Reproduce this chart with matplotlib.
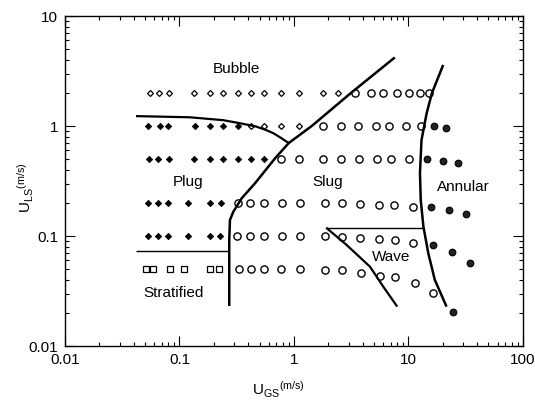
import matplotlib
matplotlib.use("Agg")
import matplotlib.pyplot as plt
from matplotlib.ticker import FixedLocator, LogLocator, NullFormatter, FuncFormatter

plt.rcParams['font.family'] = ['Liberation Sans', 'DejaVu Sans']
plt.rcParams['mathtext.fontset'] = 'custom'
plt.rcParams['mathtext.rm'] = 'Liberation Sans'
plt.rcParams['mathtext.it'] = 'Liberation Sans'

# ---- observed flow regimes: gas (x) and liquid (y) superficial velocities, m/s ----
bubble_x = [0.055, 0.066, 0.081, 0.134, 0.185, 0.239, 0.327, 0.421, 0.55, 0.77, 1.11, 1.79, 2.44,
            0.421, 0.55, 0.77, 1.11]
bubble_y = [2.0] * 13 + [1.0] * 4

plug_x = [0.053, 0.068, 0.080, 0.137, 0.185, 0.239, 0.327,
          0.054, 0.065, 0.081, 0.134, 0.185, 0.239, 0.327, 0.421, 0.55,
          0.053, 0.065, 0.080, 0.118, 0.185, 0.230,
          0.053, 0.065, 0.080, 0.118, 0.183, 0.225]
plug_y = [1.0] * 7 + [0.5] * 9 + [0.2] * 6 + [0.1] * 6

strat_x = [0.051, 0.059, 0.083, 0.109, 0.185, 0.22]
strat_y = [0.05] * 6

slug_x = [3.41, 4.67, 5.95, 7.96, 10.2, 12.5, 15.1,
          1.79, 2.56, 3.63, 5.17, 6.74, 9.52, 12.8,
          0.77, 1.11, 1.80, 2.56, 3.71, 5.3, 7.1, 10.1,
          0.327, 0.415, 0.547, 0.78, 1.12, 1.87, 2.65, 3.81, 5.5, 7.48, 11.0,
          0.315, 0.415, 0.547, 0.78, 1.12, 1.87, 2.65, 3.81, 5.5, 7.6, 11.0,
          0.33, 0.42, 0.55, 0.77, 1.12, 1.87, 2.63, 3.84, 5.6, 7.6, 11.3, 16.5]
slug_y = ([2.0] * 7 + [1.0] * 7 + [0.5] * 8 +
          [0.2, 0.2, 0.2, 0.2, 0.2, 0.2, 0.198, 0.195, 0.19, 0.19, 0.185] +
          [0.1, 0.1, 0.1, 0.1, 0.1, 0.1, 0.097, 0.095, 0.093, 0.092, 0.087] +
          [0.05, 0.05, 0.05, 0.05, 0.05, 0.049, 0.0487, 0.046, 0.0437, 0.042, 0.0372, 0.0303])

annular_x = [16.7, 21.4, 14.4, 20.0, 27.0, 15.8, 22.5, 32.0, 16.3, 24.0, 34.3, 24.3]
annular_y = [1.0, 0.965, 0.5, 0.482, 0.464, 0.185, 0.171, 0.158, 0.082, 0.072, 0.0572, 0.0205]

# ---- regime transition boundaries ----
bubble_plug_x = [0.0417, 0.123, 0.24, 0.337, 0.465, 0.57, 0.66, 0.755, 0.90]
bubble_plug_y = [1.23, 1.20, 1.13, 1.06, 0.99, 0.92, 0.86, 0.79, 0.70]

slug_bnd_x = [0.272, 0.272, 0.276, 0.295, 0.349, 0.456, 0.683, 0.90, 1.43, 3.15, 7.6]
slug_bnd_y = [0.0231, 0.092, 0.14, 0.166, 0.22, 0.301, 0.508, 0.70, 1.0, 2.0, 4.2]

strat_bnd_x = [0.0417, 0.272]
strat_bnd_y = [0.073, 0.073]

wave_top_x = [1.91, 13.5]
wave_top_y = [0.119, 0.119]

wave_bnd_x = [1.91, 2.88, 4.61, 6.03, 7.98]
wave_bnd_y = [0.119, 0.083, 0.0526, 0.0346, 0.0228]

annular_bnd_x = [20.1, 16.0, 14.4, 13.0, 12.6, 12.8, 13.5, 14.9, 17.0, 21.5]
annular_bnd_y = [3.59, 1.98, 1.30, 0.746, 0.372, 0.212, 0.122, 0.0696, 0.0398, 0.0228]

regime_labels = ["Bubble", "Plug", "Slug", "Annular", "Wave", "Stratified"]
label_x = [0.316, 0.119, 1.97, 30.0, 7.1, 0.088]
label_y = [3.3, 0.312, 0.312, 0.28, 0.065, 0.0305]

x_ticks = [0.01, 0.1, 1, 10, 100]
y_ticks = [0.01, 0.1, 1, 10]

fig = plt.figure(figsize=(5.35, 4.0), dpi=100)
ax = fig.add_axes([0.1215, 0.135, 0.856, 0.825])
ax.set_xscale('log')
ax.set_yscale('log')
ax.set_xlim(0.01, 100)
ax.set_ylim(0.01, 10)

mk = dict(linestyle='none', zorder=3)
ax.plot(bubble_x, bubble_y, marker='D', ms=3.0, mfc='white', mec='black', mew=0.9, **mk)
ax.plot(plug_x, plug_y, marker='D', ms=3.3, mfc='black', mec='black', mew=0.5, **mk)
ax.plot(strat_x, strat_y, marker='s', ms=4.2, mfc='white', mec='black', mew=0.9, **mk)
ax.plot(slug_x, slug_y, marker='o', ms=5.2, mfc='white', mec='black', mew=1.0, **mk)
ax.plot(annular_x, annular_y, marker='o', ms=4.8, mfc='#222222', mec='black', mew=0.8, **mk)

ln = dict(color='black', solid_capstyle='butt', zorder=4)
ax.plot(bubble_plug_x, bubble_plug_y, lw=1.6, **ln)
ax.plot(slug_bnd_x, slug_bnd_y, lw=1.8, **ln)
ax.plot(strat_bnd_x, strat_bnd_y, lw=1.0, **ln)
ax.plot(wave_top_x, wave_top_y, lw=1.0, **ln)
ax.plot(wave_bnd_x, wave_bnd_y, lw=1.6, **ln)
ax.plot(annular_bnd_x, annular_bnd_y, lw=1.8, **ln)

for t, x, y in zip(regime_labels, label_x, label_y):
    ax.text(x, y, t, ha='center', va='center', fontsize=11, zorder=5)

fmt = FuncFormatter(lambda v, p: f"{v:g}")
ax.xaxis.set_major_locator(FixedLocator(x_ticks))
ax.yaxis.set_major_locator(FixedLocator(y_ticks))
ax.xaxis.set_major_formatter(fmt)
ax.yaxis.set_major_formatter(fmt)
ax.xaxis.set_minor_locator(LogLocator(base=10, subs=range(2, 10)))
ax.yaxis.set_minor_locator(LogLocator(base=10, subs=range(2, 10)))
ax.xaxis.set_minor_formatter(NullFormatter())
ax.yaxis.set_minor_formatter(NullFormatter())
ax.tick_params(which='both', direction='in', top=True, right=True, labelsize=11, width=0.8)
ax.tick_params(which='major', length=7, pad=5)
ax.tick_params(which='minor', length=3)
for s in ax.spines.values():
    s.set_linewidth(1.0)

ax.set_xlabel(r'$\mathregular{U_{GS}{}^{(m/s)}}$', fontsize=11)
ax.set_ylabel(r'$\mathregular{U_{LS}{}^{(m/s)}}$', fontsize=11)
ax.xaxis.set_label_coords(0.467, -0.102)
ax.yaxis.set_label_coords(-0.085, 0.48)
ax.yaxis.label.set_va('center')

fig.savefig('out.png', dpi=100)
